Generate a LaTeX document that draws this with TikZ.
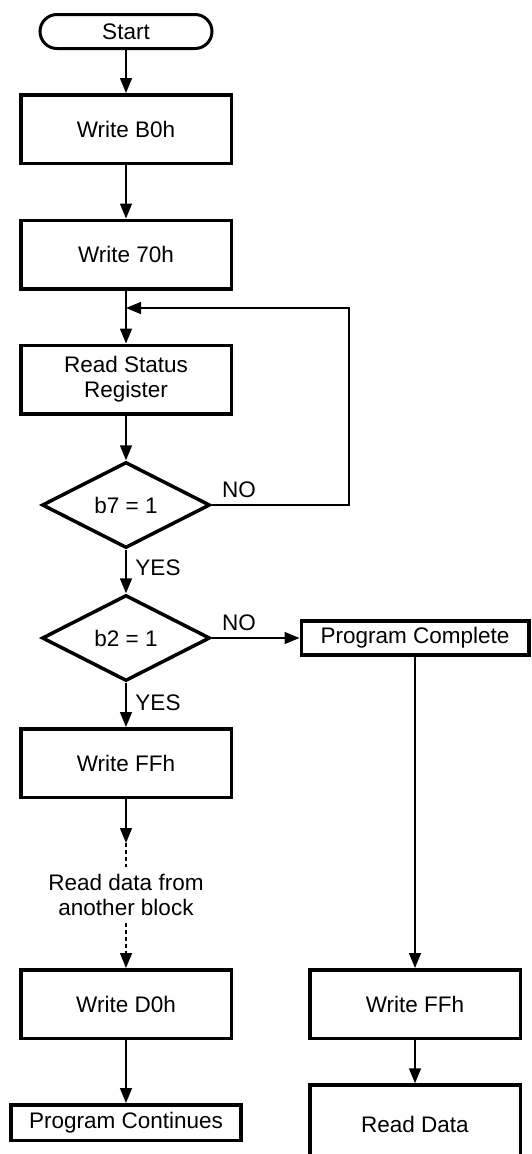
\documentclass[tikz,border=0pt]{standalone}
\usepackage{fontspec}
\setmainfont{Liberation Sans}
\usetikzlibrary{arrows.meta}
\usetikzlibrary{shapes.geometric}

\tikzset{
  box/.style={draw, line width=3.5pt, minimum width=210.5pt, minimum height=68.5pt,
    align=center, inner sep=0pt},
  slimbox/.style={draw, line width=3.5pt, minimum height=34pt, inner sep=0pt},
  test/.style={diamond, draw, line width=3.5pt, minimum width=168pt,
    minimum height=86pt, inner sep=0pt},
  term/.style={draw, line width=3pt, rounded corners=17pt, minimum width=172pt,
    minimum height=34pt},
  flow/.style={line width=1.5pt, >={Triangle[length=15pt,width=12pt]}},
  dots/.style={flow, dash pattern=on 4pt off 3pt},
}

\begin{document}
\begin{tikzpicture}[x=1pt, y=-1pt, font=\fontsize{22.5}{25}\selectfont]
      \useasboundingbox (0,0) rectangle (531,1154);

      % main column
      \node[term] (start) at (126,31.5) {Start};
      \node[box] (wb0) at (126,129) {Write B0h};
      \node[box] (w70) at (126,254.5) {Write 70h};
      \node[box] (rsr) at (126,379.5) {Read Status\\Register};
      \node[test] (b7) at (126,505) {b7 = 1};
      \node[test] (b2) at (126,638) {b2 = 1};
      \node[box] (wffl) at (126,763) {Write FFh};
      \node[align=center, inner xsep=0pt, inner ysep=7pt] (other) at (126,895)
        {Read data from\\another block};
      \node[box] (wd0) at (126,1004) {Write D0h};
      \node[slimbox, minimum width=230pt, minimum height=35.5pt] (cont) at (126,1122.5)
        {Program Continues};

      % right column
      \node[slimbox, minimum width=227.5pt] (done) at (415,638) {Program Complete};
      \node[box] (wffr) at (415,1004) {Write FFh};
      \node[box, minimum height=78pt] (rdata) at (415,1124) {Read Data};

      \coordinate (join) at (126,308);
      \coordinate (corner) at (349,505);
      \coordinate (tip) at (126,843);

      \path[flow,->] (start) edge (wb0);
      \path[flow,->] (wb0) edge (w70);
      \path[flow,->] (w70) edge (rsr);
      \path[flow,->] (rsr) edge (b7);
      \path[flow,->] (b7) edge (b2);
      \path[flow,->] (b2) edge (wffl);
      \path[flow,->] (b2) edge (done);
      \path[flow,->] (done) edge (wffr);
      \path[flow,->] (wffr) edge (rdata);
      \path[flow,->] (wd0) edge (cont);
      \draw[flow,->] (b7.east) -- (corner) |- (join);

      \draw[flow,->] (wffl) -- (tip);
      \draw[dots] (tip) -- (other.north);
      \draw[dots,->] (other.south) -- (wd0);

      \node (no1) at (239,490) {NO};
      \node (no2) at (239,623) {NO};
      \node (yes1) at (158,568) {YES};
      \node (yes2) at (158,703) {YES};
    \end{tikzpicture}
\end{document}
